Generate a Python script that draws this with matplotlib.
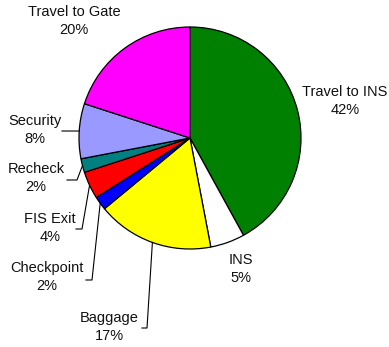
import numpy as np
import matplotlib
matplotlib.use("Agg")
import matplotlib.pyplot as plt

# Share of passenger time per activity (%), clockwise from 12 o'clock
labels = ["Travel to INS", "INS", "Baggage", "Checkpoint", "FIS Exit",
          "Recheck", "Security", "Travel to Gate"]
shares = [42, 5, 17, 2, 4, 2, 8, 20]
colors = ["#008000", "#FFFFFF", "#FFFF00", "#0000FF", "#FF0000",
          "#008080", "#9999FF", "#FF00FF"]

# layout in pixels of the 389x347 canvas
W, H = 389, 347
CX, CY, R = 190, 138, 111
label_pos = {
    "Travel to INS": (345, 101),
    "INS": (241, 269),
    "Baggage": (109, 327),
    "Checkpoint": (47, 277),
    "FIS Exit": (50, 228),
    "Recheck": (36, 178),
    "Security": (35, 130),
    "Travel to Gate": (74, 21),
}
# leader lines: (start, elbow) in pixels, end is on the pie edge
leaders = {
    "Security": ((62, 131), (62, 131)),
    "Recheck": ((67, 180), (77, 180)),
    "FIS Exit": ((76, 229), (82, 229)),
    "Checkpoint": ((86, 280), (92, 280)),
    "Baggage": ((142, 328), (147, 328)),
}


def px(x, y):
    return (x - CX) / R, (CY - y) / R


fig = plt.figure(figsize=(W / 100, H / 100), dpi=100)
ax = fig.add_axes([0, 0, 1, 1])
ax.pie(shares, colors=colors, startangle=90, counterclock=False, radius=1,
       wedgeprops=dict(edgecolor="black", linewidth=0.9))
ax.set_xlim(-CX / R, (W - CX) / R)
ax.set_ylim(-(H - CY) / R, CY / R)
ax.set_aspect("equal")
ax.axis("off")

total = sum(shares)
cum = np.cumsum([0] + shares)
for i, name in enumerate(labels):
    x, y = px(*label_pos[name])
    ax.text(x, y, f"{name}\n{shares[i] / total:.0%}", ha="center", va="center",
            fontsize=10.5, family="Liberation Sans", linespacing=1.35,
            color="#111111")
    if name in leaders:
        mid = (cum[i] + cum[i + 1]) / 2 / total
        theta = np.pi / 2 - 2 * np.pi * mid
        ex, ey = np.cos(theta), np.sin(theta)
        (sx, sy), (kx, ky) = [px(*p) for p in leaders[name]]
        ax.plot([sx, kx, ex], [sy, ky, ey], color="black", lw=0.8)

fig.savefig("out.png", dpi=100)
